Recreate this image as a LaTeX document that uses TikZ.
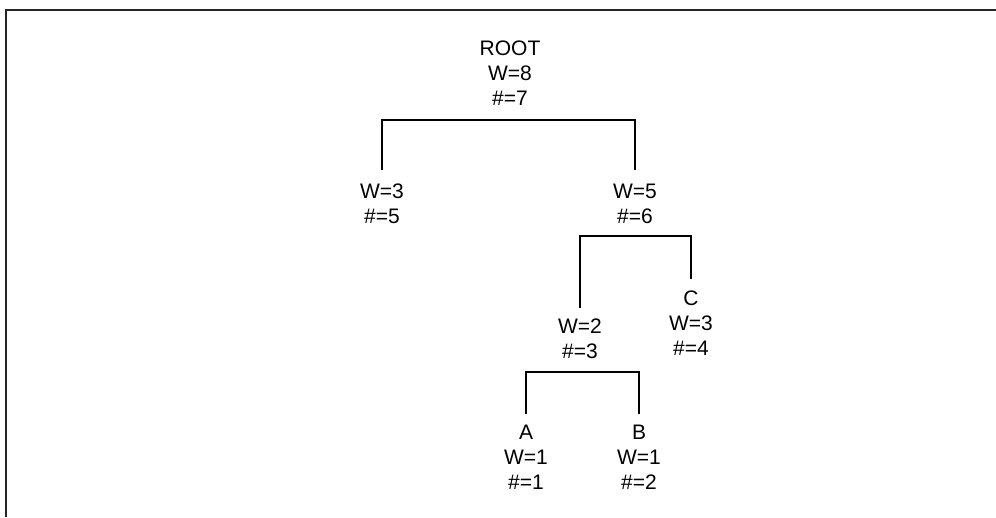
\documentclass[tikz,border=0pt]{standalone}
\usepackage{fontspec}
\setmainfont{Liberation Sans}
\usepackage{tikz}
\usetikzlibrary{positioning, calc}

\begin{document}
\begin{tikzpicture}[
  x=1pt, y=-1pt,
  tnode/.style={align=center, inner xsep=2pt, inner ysep=11pt,
    font=\fontsize{21}{25}\selectfont},
  branch/.style={line width=1.5pt, color=black},
  frameline/.style={line width=2.2pt, color=black!85}
]
  \useasboundingbox (0,0) rectangle (996,517);
  \draw[frameline] (6,517) |- (996,10);

  \node[tnode] (root) at (510,73.5) {ROOT\\W=8\\\#=7};
  \node[tnode] (left) at (382,204) {W=3\\\#=5};
  \node[tnode] (right) at (635,204) {W=5\\\#=6};
  \node[tnode] (inner) at (580,339) {W=2\\\#=3};
  \node[tnode] (leafc) at (691,323) {C\\W=3\\\#=4};
  \node[tnode] (leafa) at (526,457) {A\\W=1\\\#=1};
  \node[tnode] (leafb) at (639,457) {B\\W=1\\\#=2};

  \draw[branch] ([yshift=3pt]left.north) |- ([yshift=-3pt]root.south) -| ([yshift=3pt]right.north);
  \draw[branch] (inner.north) |- ([yshift=-1pt]right.south) -| (leafc.north);
  \draw[branch] (leafa.north) |- ([yshift=-2pt]inner.south) -| (leafb.north);
\end{tikzpicture}
\end{document}
